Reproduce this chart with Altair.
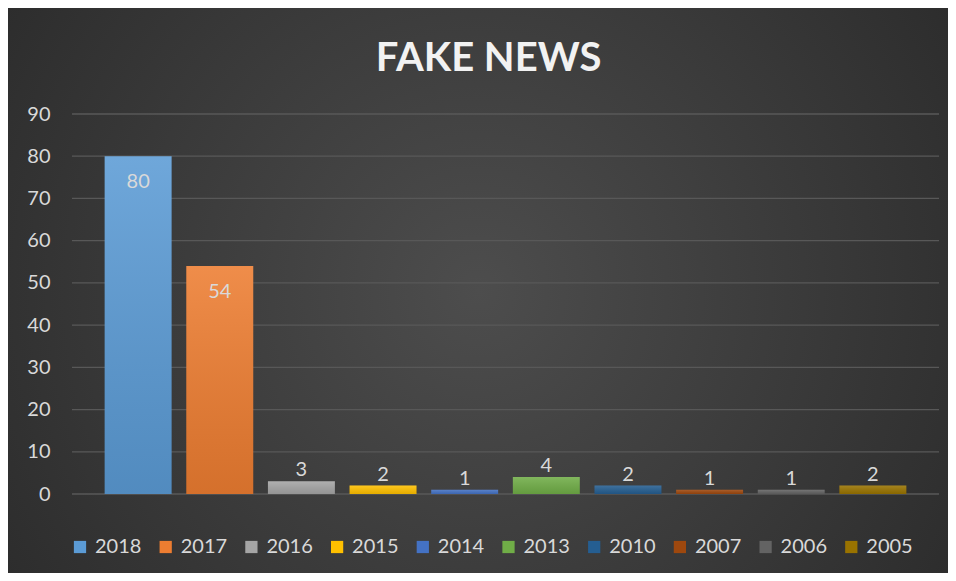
import altair as alt
import pandas as pd

years = ["2018", "2017", "2016", "2015", "2014", "2013", "2010", "2007", "2006", "2005"]
counts = [80, 54, 3, 2, 1, 4, 2, 1, 1, 2]
colors = ["#5B9BD5", "#ED7D31", "#A5A5A5", "#FFC000", "#4472C4",
          "#70AD47", "#255E91", "#9E480E", "#636363", "#997300"]
y_ticks = [0, 10, 20, 30, 40, 50, 60, 70, 80, 90]

W, H = 867, 380
PAD = {"left": 64, "top": 106, "right": 9, "bottom": 79}
FONT = "Lato"
TXT = "#D9D9D9"

df = pd.DataFrame({"year": years, "count": counts})
ticks_df = pd.DataFrame({"v": y_ticks})
one = pd.DataFrame({"k": [0]})

yscale = alt.Scale(domain=[0, 90], nice=False)
y_axis = alt.Axis(values=y_ticks, grid=False, domain=False, ticks=False,
                  labelPadding=22, labelColor=TXT, labelFont=FONT,
                  labelFontSize=20, title=None, zindex=1)
xenc = alt.X("year:N", sort=years, axis=None,
             scale=alt.Scale(paddingInner=0.18, paddingOuter=0.4))

bg = alt.Chart(one).mark_rect(
    fill={"gradient": "radial", "x1": 0.5, "y1": 0.5, "r1": 0.0,
          "x2": 0.5, "y2": 0.5, "r2": 0.75,
          "stops": [{"offset": 0, "color": "#4d4d4d"},
                    {"offset": 1, "color": "#242424"}]}
).encode(
    x=alt.value(-PAD["left"]), x2=alt.value(W + PAD["right"]),
    y=alt.value(-PAD["top"]), y2=alt.value(H + PAD["bottom"])
)

grid = alt.Chart(ticks_df).mark_rule(color="#585858", strokeWidth=1.3).encode(
    y=alt.Y("v:Q", scale=yscale, axis=y_axis),
    x=alt.value(0), x2=alt.value(W)
)

bars = alt.Chart(df).mark_bar().encode(
    x=xenc,
    y=alt.Y("count:Q", scale=yscale, axis=y_axis),
    color=alt.Color("year:N", sort=years,
                    scale=alt.Scale(domain=years, range=colors),
                    legend=alt.Legend(orient="none", legendX=-2, legendY=423,
                                      direction="horizontal", columns=10,
                                      title=None, symbolType="square",
                                      symbolSize=150, symbolStrokeWidth=0,
                                      labelFont=FONT, labelFontSize=20,
                                      labelColor=TXT, labelOffset=5,
                                      columnPadding=13.7))
)

shade = alt.Chart(df).mark_bar(
    fill={"gradient": "linear", "x1": 0, "y1": 0, "x2": 0, "y2": 1,
          "stops": [{"offset": 0, "color": "rgba(255,255,255,0.12)"},
                    {"offset": 1, "color": "rgba(0,0,0,0.10)"}]}
).encode(
    x=xenc,
    y=alt.Y("count:Q", scale=yscale, axis=y_axis)
)

lab_in = alt.Chart(df).transform_filter("datum.count > 10").mark_text(
    baseline="middle", dy=26, font=FONT, fontSize=20, color=TXT
).encode(x=xenc, y=alt.Y("count:Q", scale=yscale, axis=y_axis), text="count:Q")

lab_out = alt.Chart(df).transform_filter("datum.count <= 10").mark_text(
    baseline="alphabetic", dy=-5, font=FONT, fontSize=20, color=TXT
).encode(x=xenc, y=alt.Y("count:Q", scale=yscale, axis=y_axis), text="count:Q")

chart = alt.layer(bg, grid, bars, shade, lab_in, lab_out).properties(
    width=W, height=H,
    title=alt.TitleParams("FAKE NEWS", font=FONT, fontSize=40, fontWeight="bold",
                          color="#F2F2F2", anchor="middle", dx=-17, offset=-103,
                          baseline="alphabetic"),
    autosize=alt.AutoSizeParams(type="none"),
    padding=PAD,
).configure(background="#242424").configure_view(stroke=None)

chart.save("out.html", embed_options={"renderer": "svg", "actions": False})
